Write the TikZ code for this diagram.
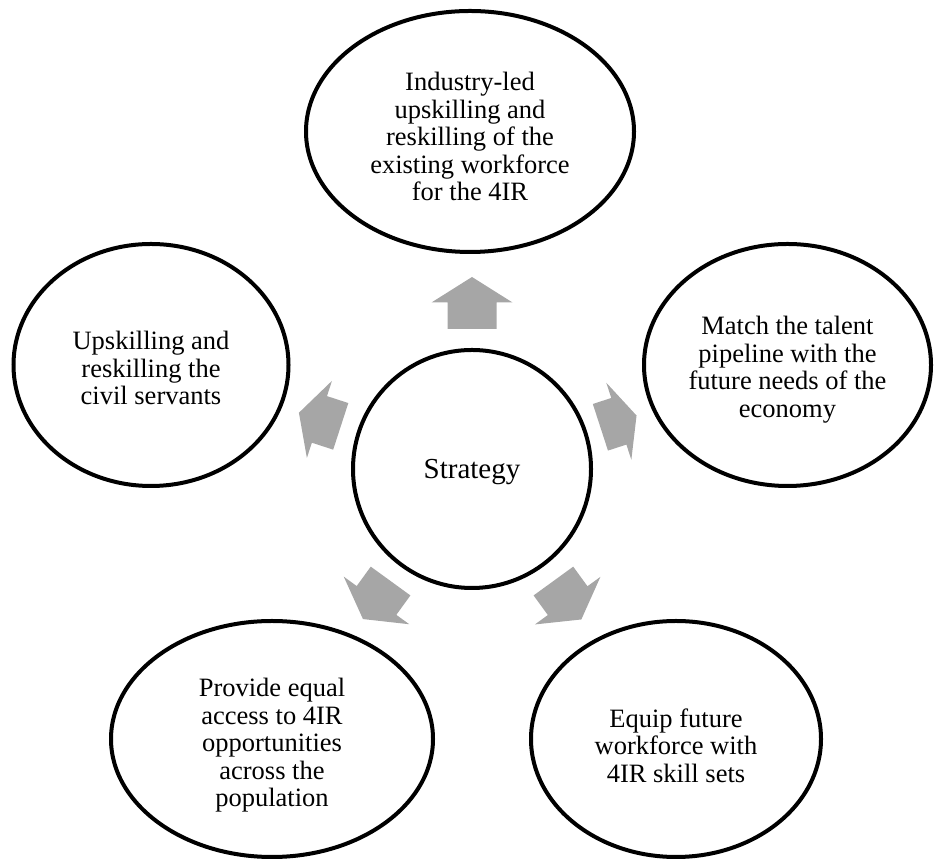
\documentclass[tikz,border=0pt]{standalone}
\usepackage{fontspec}
\setmainfont{Liberation Serif}
\usetikzlibrary{shapes.geometric}
\definecolor{arrowgray}{HTML}{A6A6A6}
\tikzset{
  outernode/.style={ellipse, draw=black, line width=4pt, fill=white, inner sep=0pt},
  hubnode/.style={circle, draw=black, line width=4pt, fill=white, minimum size=238pt, inner sep=0pt},
  outertext/.style={align=center, inner sep=0pt, font=\fontsize{26.5}{27.5}\selectfont},
  hubtext/.style={inner sep=0pt, font=\fontsize{29}{32}\selectfont},
}
% block arrow radiating from the hub: angle, tail radius, length
\newcommand{\blockarrow}[3]{%
  \begin{scope}[shift={(hub.center)}, rotate=#1]
    \fill[arrowgray] (#2,-24.5) -- ({#2+0.51*#3},-24.5) -- ({#2+0.51*#3},-40.5)
      -- ({#2+#3},0) -- ({#2+0.51*#3},40.5) -- ({#2+0.51*#3},24.5) -- (#2,24.5) -- cycle;
  \end{scope}}
\begin{document}
\begin{tikzpicture}[x=1pt,y=1pt]
  \useasboundingbox (0,0) rectangle (934,861);

  % shapes
  \node[hubnode] (hub) at (472,392) {};
  \node[outernode, minimum width=328pt, minimum height=241pt] (top) at (470,729.5) {};
  \node[outernode, minimum width=287pt, minimum height=242pt] (right) at (787.5,496) {};
  \node[outernode, minimum width=290pt, minimum height=236pt] (botright) at (676,122) {};
  \node[outernode, minimum width=322pt, minimum height=236pt] (botleft) at (272,122) {};
  \node[outernode, minimum width=275pt, minimum height=242pt] (left) at (151,496) {};

  % labels
  \node[hubtext] (hubtxt) at ([yshift=-3pt]hub.center) {Strategy};
  \node[outertext] (toptxt) at ([yshift=-5pt]top.center)
    {Industry-led\\upskilling and\\reskilling of the\\existing workforce\\for the 4IR};
  \node[outertext] (righttxt) at ([yshift=-4.5pt]right.center)
    {Match the talent\\pipeline with the\\future needs of the\\economy};
  \node[outertext] (botrighttxt) at ([yshift=-6.5pt]botright.center)
    {Equip future\\workforce with\\4IR skill sets};
  \node[outertext] (botlefttxt) at ([yshift=-6.5pt]botleft.center)
    {Provide equal\\access to 4IR\\opportunities\\across the\\population};
  \node[outertext] (lefttxt) at ([yshift=-3pt]left.center)
    {Upskilling and\\reskilling the\\civil servants};

  % arrows
  \blockarrow{90}{140}{52}
  \blockarrow{18}{135}{38}
  \blockarrow{-54}{138.5}{47.5}
  \blockarrow{-126}{138.5}{47}
  \blockarrow{162}{138}{44}
\end{tikzpicture}
\end{document}
